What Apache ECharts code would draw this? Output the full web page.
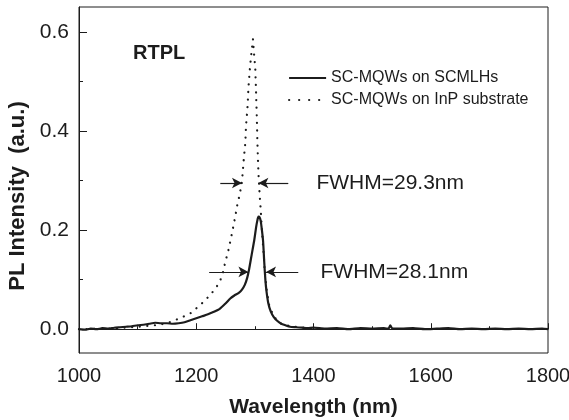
<!DOCTYPE html>
<html>
<head>
<meta charset="utf-8">
<script src="https://cdn.jsdelivr.net/npm/echarts@6/dist/echarts.min.js"></script>
<style>
html,body{margin:0;padding:0;background:#fff;}
#chart{width:569px;height:420px;}
</style>
</head>
<body>
<div id="chart"></div>
<script>
// ---- Data ----
const seriesNames = ['SC-MQWs on SCMLHs', 'SC-MQWs on InP substrate'];

const solidWavelength = [1000,1010,1020,1030,1040,1050,1060,1070,1080,1090,1100,1110,1120,1130,1140,1150,1160,1170,1180,1190,1200,1210,1220,1230,1240,1250,1258,1265,1272,1278,1283,1287,1290,1293,1296,1299,1302,1304,1306,1308,1310,1312,1314,1316,1318,1320,1323,1327,1332,1338,1345,1352,1360,1370,1380,1390,1400,1420,1440,1460,1480,1500,1520,1528,1531,1534,1550,1570,1590,1610,1630,1650,1670,1690,1710,1730,1750,1770,1790,1800];
const solidIntensity = [0.000,-0.001,0.001,0.000,0.002,0.001,0.003,0.004,0.005,0.006,0.008,0.009,0.011,0.013,0.012,0.012,0.011,0.012,0.014,0.018,0.022,0.026,0.030,0.035,0.041,0.052,0.062,0.068,0.073,0.080,0.090,0.104,0.120,0.140,0.160,0.180,0.205,0.218,0.227,0.226,0.218,0.200,0.178,0.135,0.098,0.075,0.052,0.036,0.025,0.017,0.011,0.008,0.005,0.004,0.003,0.002,0.003,0.001,0.002,0.000,0.002,0.001,0.002,0.001,0.008,0.002,0.001,0.002,0.000,0.001,0.002,0.000,0.001,0.000,0.001,0.000,0.001,0.000,0.001,0.000];

const dottedWavelength = [1000,1050,1100,1130,1150,1172,1190,1207,1224,1235,1244,1249,1255,1261,1266.5,1270.5,1274,1278,1280.7,1283.6,1285,1287.5,1289,1291,1293.7,1296.7,1297.8,1300.7,1302,1303.5,1304.6,1306,1308,1310,1312,1314.5,1317,1320,1324,1332,1343,1360,1375,1400];
const dottedIntensity = [0.000,0.001,0.005,0.008,0.012,0.022,0.032,0.049,0.069,0.086,0.106,0.133,0.160,0.194,0.227,0.254,0.271,0.298,0.338,0.375,0.412,0.449,0.486,0.519,0.553,0.585,0.567,0.526,0.479,0.419,0.365,0.318,0.274,0.240,0.200,0.160,0.115,0.080,0.050,0.026,0.012,0.006,0.004,0.002];

// FWHM markers: [leftStart, leftTip, rightTip, rightEnd], level, label
const fwhmDotted = {ends: [1241, 1278, 1306, 1357], level: 0.295, label: 'FWHM=29.3nm', labelAt: 1405};
const fwhmSolid  = {ends: [1222, 1289, 1319, 1374], level: 0.1155, label: 'FWHM=28.1nm', labelAt: 1412};

const xTickLabels = [1000, 1200, 1400, 1600, 1800];
const yMajorTicks = [0, 0.2, 0.4, 0.6];
const yMinorTicks = [0.1, 0.3, 0.5];

// ---- Chart ----
const FONT = "'Liberation Sans', Arial, Helvetica, sans-serif";
const INK = '#1c1c1c';

function pairs(xs, ys) { return xs.map((x, i) => [x, ys[i]]); }
function arrowPair(ends, level) {
  return [
    [{coord: [ends[0], level]}, {coord: [ends[1], level]}],
    [{coord: [ends[3], level]}, {coord: [ends[2], level]}]
  ];
}
function textPoint(f) {
  return {coord: [f.labelAt, f.level], value: f.label};
}

const chart = echarts.init(document.getElementById('chart'), null, {renderer: 'canvas'});
chart.setOption({
  animation: false,
  backgroundColor: '#fff',
  textStyle: {fontFamily: FONT},
  grid: {left: 79, right: 21, top: 7, bottom: 67, show: true, borderColor: INK, borderWidth: 1,
    backgroundColor: 'transparent', containLabel: false, outerBoundsMode: 'none'},
  title: {
    text: 'RTPL', left: 128, top: 38, padding: 5,
    textStyle: {fontFamily: FONT, fontSize: 20, fontWeight: 'bold', color: INK}
  },
  legend: {
    orient: 'vertical', left: 288, top: 70, padding: 0, itemWidth: 37, itemHeight: 14, itemGap: 6,
    itemStyle: {opacity: 0},
    textStyle: {fontFamily: FONT, fontSize: 16, color: INK},
    data: [
      {name: seriesNames[0], lineStyle: {width: 2, type: 'solid'}},
      {name: seriesNames[1], lineStyle: {width: 2.2, type: [0.1, 9.9], cap: 'round'}}
    ]
  },
  xAxis: {
    type: 'value', min: 1000, max: 1800, interval: 200,
    name: 'Wavelength (nm)', nameLocation: 'middle', nameGap: 44,
    nameTextStyle: {fontFamily: FONT, fontSize: 21, fontWeight: 'bold', color: INK},
    axisLine: {show: true, lineStyle: {color: INK, width: 1}},
    axisTick: {show: true, inside: true, length: 6, lineStyle: {color: INK}},
    minorTick: {show: true, splitNumber: 2, length: 3, lineStyle: {color: INK}},
    splitLine: {show: false},
    axisLabel: {fontFamily: FONT, fontSize: 20, color: INK, margin: 13,
      customValues: xTickLabels, formatter: v => String(v)}
  },
  yAxis: [
    {
      type: 'value', min: -0.048, max: 0.65, position: 'left',
      name: 'PL Intensity  (a.u.)', nameLocation: 'middle', nameGap: 46,
      nameTextStyle: {fontFamily: FONT, fontSize: 22, fontWeight: 'bold', color: INK, padding: [0, 32, 0, 0]},
      axisLine: {show: true, lineStyle: {color: INK, width: 1}},
      axisTick: {show: true, inside: true, length: 8, customValues: yMajorTicks, lineStyle: {color: INK}},
      splitLine: {show: false},
      axisLabel: {fontFamily: FONT, fontSize: 21, color: INK, margin: 10,
        customValues: yMajorTicks, formatter: v => v.toFixed(1)}
    },
    {
      type: 'value', min: -0.048, max: 0.65, position: 'left', offset: 0,
      axisLine: {show: false},
      axisTick: {show: true, inside: true, length: 4, customValues: yMinorTicks, lineStyle: {color: INK}},
      axisLabel: {show: false},
      splitLine: {show: false}
    }
  ],
  series: [
    {
      name: seriesNames[1], type: 'line', data: pairs(dottedWavelength, dottedIntensity),
      symbol: 'none', smooth: false, z: 2,
      lineStyle: {color: INK, width: 2.2, type: [0.1, 7.5], cap: 'round'},
      itemStyle: {color: INK},
      markLine: {
        silent: true, symbol: ['none', 'arrow'], symbolSize: [8, 10],
        lineStyle: {color: INK, width: 1.2, type: 'solid', cap: 'butt'}, label: {show: false},
        data: arrowPair(fwhmDotted.ends, fwhmDotted.level).concat(arrowPair(fwhmSolid.ends, fwhmSolid.level))
      },
      markPoint: {
        silent: true, symbol: 'circle', symbolSize: 0,
        label: {show: true, position: 'right', distance: 0, formatter: p => p.value,
          fontFamily: FONT, fontSize: 21, color: INK},
        data: [textPoint(fwhmDotted), textPoint(fwhmSolid)]
      }
    },
    {
      name: seriesNames[0], type: 'line', data: pairs(solidWavelength, solidIntensity),
      symbol: 'none', smooth: 0.2, z: 3,
      lineStyle: {color: INK, width: 2.2},
      itemStyle: {color: INK}
    }
  ]
});
</script>
</body>
</html>
